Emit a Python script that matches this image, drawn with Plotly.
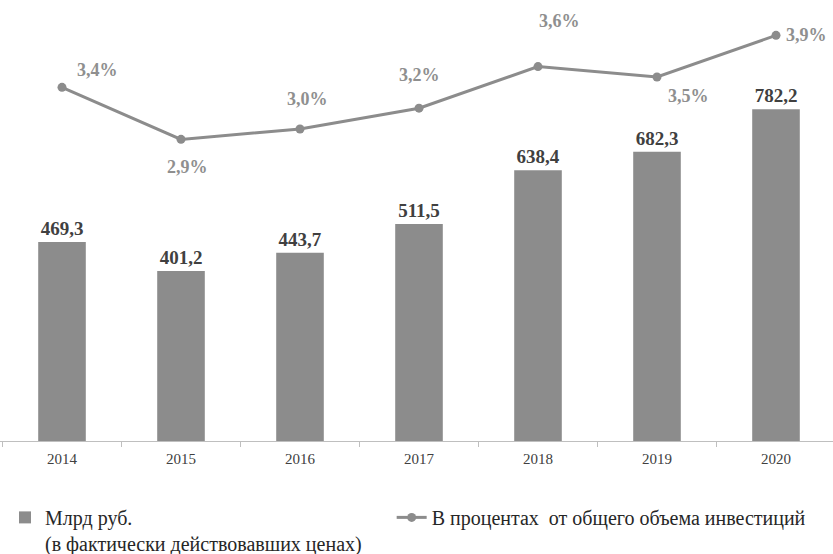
import plotly.graph_objects as go

years = ["2014", "2015", "2016", "2017", "2018", "2019", "2020"]
bln_rub = [469.3, 401.2, 443.7, 511.5, 638.4, 682.3, 782.2]
pct_invest = [3.4, 2.9, 3.0, 3.2, 3.6, 3.5, 3.9]

bar_name = "Млрд руб.<br>(в фактически действовавших ценах)" + "\u00a0" * 5
line_name = "В процентах\u00a0 от общего объема инвестиций"

SERIF = "Liberation Serif"


def fmt(v):
    return f"{v:.1f}".replace(".", ",")


fig = go.Figure()
fig.add_trace(go.Bar(
    x=years, y=bln_rub, name=bar_name,
    marker=dict(color="#8c8c8c", line=dict(width=0)),
    text=[f"<b>{fmt(v)}</b>" for v in bln_rub], textposition="outside",
    textfont=dict(family=SERIF, size=19, color="#404040"),
    cliponaxis=False, width=0.4,
))
fig.add_trace(go.Scatter(
    x=years, y=pct_invest, name=line_name, yaxis="y2",
    mode="lines+markers",
    line=dict(color="#8c8c8c", width=3),
    marker=dict(color="#8c8c8c", size=9),
    cliponaxis=False,
))

# label offsets (px) for line labels
shifts = [(35, 17), (6, -28), (7, 30), (0, 33), (21, 46), (31, -19), (30, 0)]
for i, v in enumerate(pct_invest):
    dx, dy = shifts[i]
    fig.add_annotation(
        x=i, y=v, xref="x", yref="y2",
        text=f"<b>{fmt(v)}%</b>", showarrow=False,
        xshift=dx, yshift=dy,
        font=dict(family=SERIF, size=18, color="#8f8f8f"),
    )

fig.update_layout(
    width=833, height=554,
    margin=dict(l=0, r=0, t=0, b=113, autoexpand=False),
    paper_bgcolor="white", plot_bgcolor="white",
    font=dict(family=SERIF, color="#262626"),
    showlegend=True,
    legend=dict(
        orientation="h", x=0.006, xanchor="left", y=-0.129, yanchor="top",
        font=dict(family=SERIF, size=20, color="#262626"),
        valign="top", traceorder="normal",
    ),
    xaxis=dict(
        type="category", range=[-0.521, 6.479],
        showline=True, linecolor="#bfbfbf", linewidth=1,
        ticks="outside", tickson="boundaries", tickcolor="#bfbfbf", ticklen=5,
        ticklabelstandoff=4,
        tickfont=dict(family=SERIF, size=15, color="#404040"),
        showgrid=False, zeroline=False,
    ),
    yaxis=dict(range=[0, 1040], visible=False, showgrid=False, zeroline=False),
    yaxis2=dict(range=[0, 4.24], overlaying="y", side="right", visible=False,
                showgrid=False, zeroline=False),
    bargap=0.6,
)

fig.write_html("out.html")
